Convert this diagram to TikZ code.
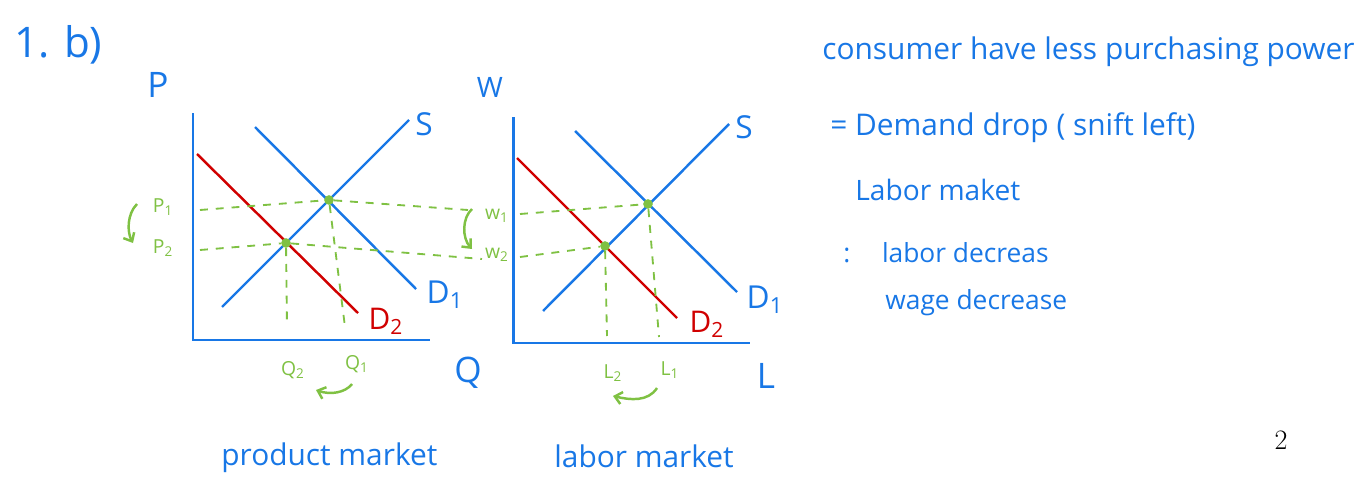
\documentclass[tikz,border=0pt]{standalone}
\usepackage{fontspec}
\usepackage{tikz}
\usetikzlibrary{arrows.meta,positioning,calc}
\newfontfamily\handfont{Open Sans}
\definecolor{inkblue}{HTML}{1877E6}
\definecolor{inkred}{HTML}{D00000}
\definecolor{inkgreen}{HTML}{7FC143}

\tikzset{
  axisline/.style={inkblue,line width=1.7pt},
  supply/.style={inkblue,line width=1.4pt},
  olddemand/.style={inkblue,line width=1.4pt},
  newdemand/.style={inkred,line width=1.4pt},
  guide/.style={inkgreen,line width=1.05pt,dash pattern=on 4.5pt off 4.5pt},
  eqdot/.style={circle,fill=inkgreen,inner sep=0pt,minimum size=5.5pt},
  shiftarrow/.style={inkgreen,line width=1.4pt,-{Straight Barb[length=4pt,width=7pt]}},
  bluelab/.style={inkblue,font=\handfont\fontsize{20}{22}\selectfont},
  redlab/.style={inkred,font=\handfont\fontsize{17}{20}\selectfont},
  greenlab/.style={inkgreen,font=\handfont\fontsize{11}{13}\selectfont},
  handtext/.style={inkblue,anchor=west,inner sep=0pt,font=\handfont\fontsize{16}{19}\selectfont}
}

\begin{document}
\begin{tikzpicture}[x=0.02cm,y=-0.02cm,>=Latex]
\useasboundingbox (0,0) rectangle (1364,483);
\node[bluelab,font=\handfont\fontsize{24}{26}\selectfont,anchor=west] (part) at (8,45) {1. b)};
% product market
\coordinate (pTop) at (193,113);
\coordinate (pO) at (193,340);
\coordinate (pEnd) at (430,340);
\draw[axisline] (pTop)--(pO)--(pEnd);
\node[bluelab] (pAxis) at (158,85) {P};
\node[bluelab] (qAxis) at (468,373) {Q};
\coordinate (pS0) at (222,307); \coordinate (pS1) at (409,120);
\coordinate (pDa) at (255,127); \coordinate (pDb) at (416,289);
\coordinate (pDc) at (197,154); \coordinate (pDd) at (358,313);
\draw[supply] (pS0)--(pS1);
\draw[olddemand] (pDa)--(pDb);
\draw[newdemand] (pDc)--(pDd);
\node[bluelab,font=\handfont\fontsize{18}{20}\selectfont] (pSlab) at (424,124) {S};
\node[bluelab,font=\handfont\fontsize{18}{20}\selectfont] (pD1lab) at (445,295) {D\textsubscript{1}};
\node[redlab] (pD2lab) at (386,321) {D\textsubscript{2}};
\node[eqdot] (pE1) at (329,200) {};
\node[eqdot] (pE2) at (286,243) {};
\coordinate (pP1) at (200,210);
\coordinate (pP2) at (200,250);
\coordinate (pQ1) at (345,327);
\coordinate (pQ2) at (287,327);
\coordinate (xP1) at (468,210);
\coordinate (xP2) at (482,259);
\draw[guide] (pP1)--(pE1)--(xP1);
\draw[guide] (pP2)--(pE2)--(xP2);
\draw[guide] (pE1)--(pQ1);
\draw[guide] (pE2)--(pQ2);
\node[greenlab] (p1lab) at (163,207) {P\textsubscript{1}};
\node[greenlab] (p2lab) at (163,248) {P\textsubscript{2}};
\node[greenlab] (q1lab) at (357,364) {Q\textsubscript{1}};
\node[greenlab] (q2lab) at (293,370) {Q\textsubscript{2}};
\coordinate (pArrA) at (137,204);
\coordinate (pArrB) at (133,243);
\draw[shiftarrow] (pArrA) .. controls (127,214) and (127,232) .. (pArrB);
\coordinate (qArrA) at (352,384);
\coordinate (qArrB) at (316,390);
\draw[shiftarrow] (qArrA) .. controls (345,393) and (330,395) .. (qArrB);
\node[handtext,font=\handfont\fontsize{17}{20}\selectfont] (pTitle) at (221,458) {product market};
% labor market
\coordinate (wTop) at (513,117);
\coordinate (wO) at (513,343);
\coordinate (wEnd) at (750,343);
\draw[axisline] (wTop)--(wO)--(wEnd);
\node[bluelab,font=\handfont\fontsize{16}{18}\selectfont] (wAxis) at (490,87) {W};
\node[bluelab] (lAxis) at (766,376) {L};
\coordinate (wS0) at (543,311); \coordinate (wS1) at (729,124);
\coordinate (wDa) at (575,131); \coordinate (wDb) at (737,292);
\coordinate (wDc) at (517,158); \coordinate (wDd) at (677,318);
\draw[supply] (wS0)--(wS1);
\draw[olddemand] (wDa)--(wDb);
\draw[newdemand] (wDc)--(wDd);
\node[bluelab,font=\handfont\fontsize{18}{20}\selectfont] (wSlab) at (744,127) {S};
\node[bluelab,font=\handfont\fontsize{18}{20}\selectfont] (wD1lab) at (765,300) {D\textsubscript{1}};
\node[redlab] (wD2lab) at (707,324) {D\textsubscript{2}};
\node[eqdot] (wE1) at (648,204) {};
\node[eqdot] (wE2) at (605,246) {};
\coordinate (wW1) at (520,214);
\coordinate (wW2) at (520,257);
\coordinate (wL1) at (659,337);
\coordinate (wL2) at (607,336);
\draw[guide] (wW1)--(wE1)--(wL1);
\draw[guide] (wW2)--(wE2)--(wL2);
\node[greenlab] (w1lab) at (497,216) {w\textsubscript{1}};
\node[greenlab] (w2lab) at (497,255) {w\textsubscript{2}};
\node[greenlab] (l1lab) at (670,370) {L\textsubscript{1}};
\node[greenlab] (l2lab) at (613,373) {L\textsubscript{2}};
\coordinate (wArrA) at (472,209);
\coordinate (wArrB) at (472,249);
\draw[shiftarrow] (wArrA) .. controls (462,218) and (462,238) .. (wArrB);
\coordinate (lArrA) at (657,388);
\coordinate (lArrB) at (613,396);
\draw[shiftarrow] (lArrA) .. controls (648,402) and (630,400) .. (lArrB);
\node[handtext,font=\handfont\fontsize{17}{20}\selectfont] (wTitle) at (554,456) {labor market};
% notes
\node[handtext,font=\handfont\fontsize{17}{20}\selectfont] (note1) at (822,52) {consumer have less purchasing power};
\node[handtext,font=\handfont\fontsize{17}{20}\selectfont] (note2) at (830,128) {= Demand drop ( snift left)};
\node[handtext] (note3) at (855,190) {Labor maket};
\node[handtext,font=\handfont\fontsize{15}{18}\selectfont] (note4) at (843,253) {:\hspace{18pt}labor decreas};
\node[handtext,font=\handfont\fontsize{15}{18}\selectfont] (note5) at (885,303) {wage decrease};
\node[font=\fontsize{16}{18}\selectfont] (page) at (1281,440) {2};
\end{tikzpicture}
\end{document}
